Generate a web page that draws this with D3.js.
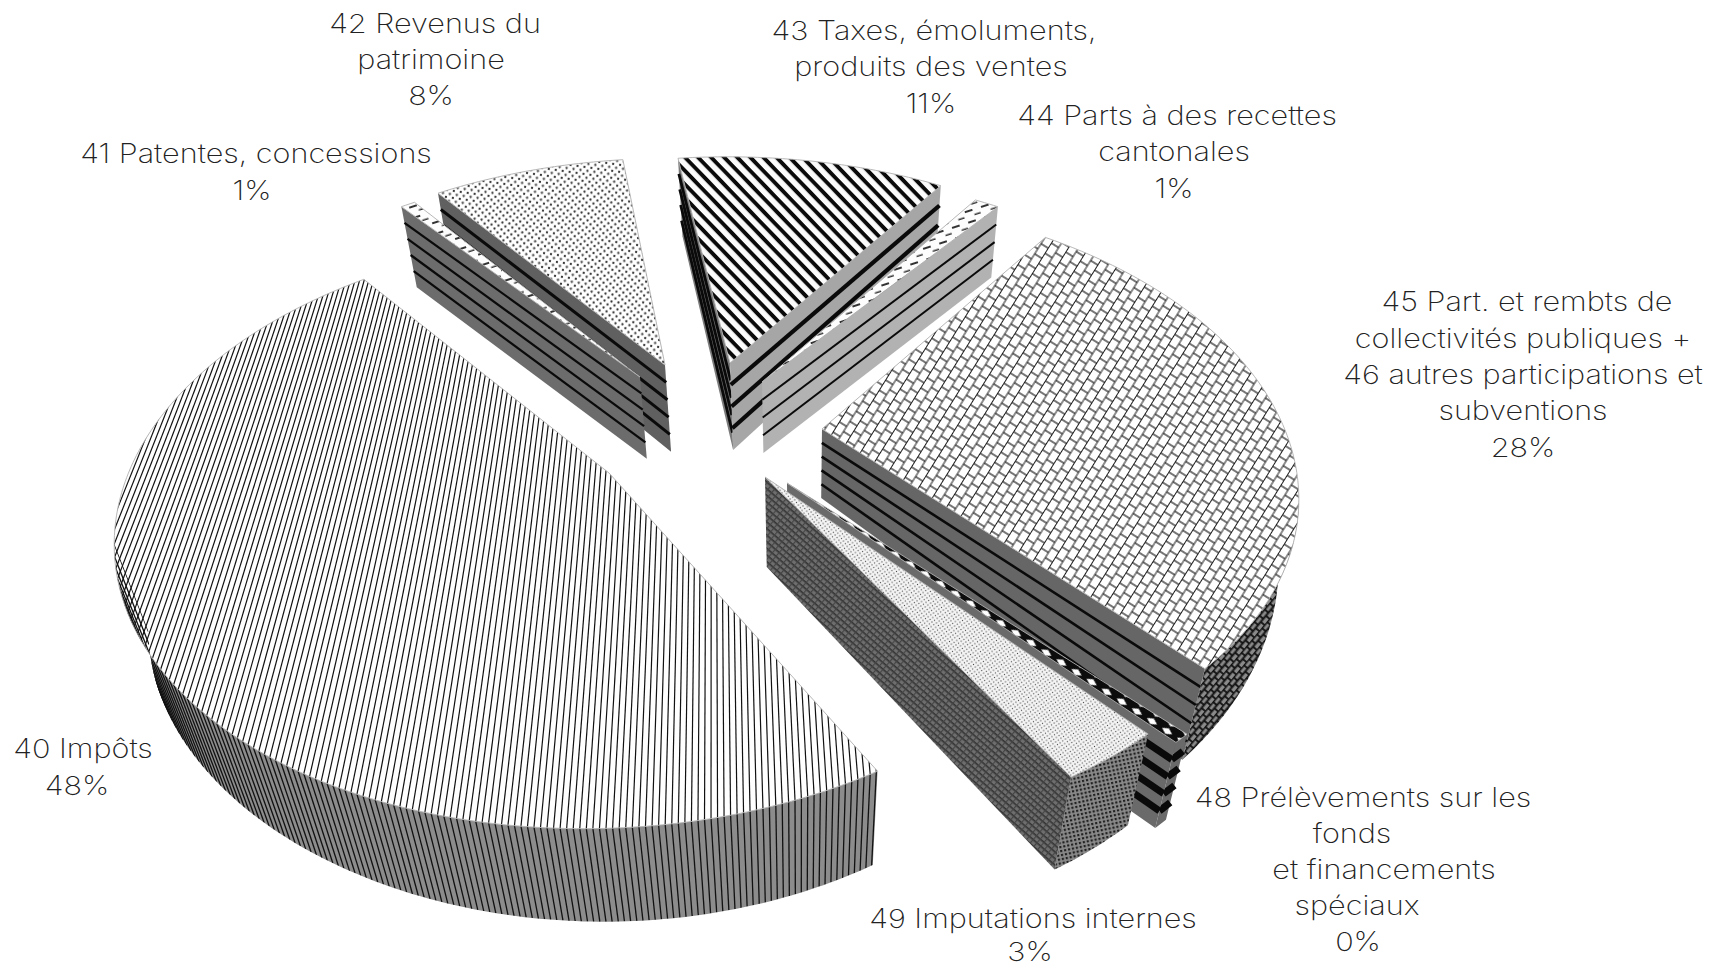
<!DOCTYPE html>
<html><head><meta charset="utf-8">
<script src="https://cdnjs.cloudflare.com/ajax/libs/d3/7.8.5/d3.min.js"></script>
<style>html,body{margin:0;background:#fff}svg{display:block}</style></head>
<body><svg id="c" width="1730" height="966"></svg>
<script>
// ---- data ----
const categories = ["40","41","42","43","44","45","48","49"];
const values = [47.5, 0.6, 8.0, 11.2, 1.0, 28.0, 0.49, 2.9];
const labelLines = [
  ["40 Impôts"],
  ["41 Patentes, concessions"],
  ["42 Revenus du","patrimoine"],
  ["43 Taxes, émoluments,","produits des ventes"],
  ["44 Parts à des recettes","cantonales"],
  ["45 Part. et rembts de","collectivités publiques +","46 autres participations et","subventions"],
  ["48 Prélèvements sur les","fonds","et financements","spéciaux"],
  ["49 Imputations internes"]
];
// ---- layout ----
const W=1730,H=966;
const C={x:712,y:420}, RX=470, RY=265, PERSP=0.19, VP={x:800,y:2300};
const startDeg=150;
const apexShift=[[-103,53],[-72,-43],[-47,-55],[18,-57],[50,-38],[110,9],[75,63],[53,57]];
const radiusK=[.985,1,1,1,1.02,.978,1,1];
const radiusKY=[1,1,1,1,1,1.03,1,1];
const depth0=[94,82,87,87,71,69,88,90];
const depthK=[0,0,.0003,.0005,0,.0015,0,.00015];
const drawOrder=[2,1,3,4,5,6,7,0];
const topFill=["none","url(#dash)","url(#dots)","url(#diag)","url(#dash)","url(#brick)","url(#zig)","url(#fine)"];
const arcFill=["#8c8c8c","#777","#6e6e6e","#999","#b4b4b4","url(#brickDark)","#6a6a6a","url(#fineDark)"];
const startWall=[null,{b:"#6c6c6c",n:4,w:2.2},{b:"#606060",n:4,w:3},{b:"#7a7a7a",n:4,w:2.8},null,null,null,null];
const endWall=[null,null,null,{b:"#a6a6a6",n:3,w:4.2},{b:"#b2b2b2",n:3,w:2},{b:"#666",n:4,w:2.6},{b:"#6a6a6a",n:4,w:7},{b:"url(#wallFine)",n:0,w:0}];
const arcLines=[0,0,0,3,3,0,4,0], arcLineW=[0,0,0,3,2,0,7,0];
const labelPos=[
 {x:[83],y:[748],px:77},
 {x:[256],y:[153],px:252},
 {x:[435,431],y:[23,59],px:431},
 {x:[934,931],y:[30,66],px:931},
 {x:[1177,1174],y:[115,151],px:1174},
 {x:[1527,1523,1523,1523],y:[301,338,374,410],px:1523},
 {x:[1363,1352,1384,1357],y:[797,833,869,905],px:1358},
 {x:[1033],y:[918],px:1030}
];
const pctY=[785,190,95,103,188,447,941,951];
// ---- projection ----
const project=(X,Y)=>{const s=1/(1-PERSP*Y);return [C.x+RX*X*s,C.y+RY*Y*s];};
const unproject=(dx,dy)=>{const Y=dy/(RY+PERSP*dy),s=1/(1-PERSP*Y);return [dx/(RX*s),Y];};
const svg=d3.select("#c");
const line=d3.line();
const poly=p=>line(p)+"Z";
// ---- patterns ----
const defs=svg.append("defs");
function pat(id,w,h,tr,draw,bg){
  const p=defs.append("pattern").attr("id",id).attr("patternUnits","userSpaceOnUse").attr("width",w).attr("height",h);
  if(tr)p.attr("patternTransform",tr);
  if(bg)p.append("rect").attr("width",w).attr("height",h).attr("fill",bg);
  draw(p);
}
pat("dots",7,7,"rotate(8)",p=>{[[0,0],[7,0],[0,7],[7,7],[3.5,3.5]].forEach(c=>p.append("circle").attr("cx",c[0]).attr("cy",c[1]).attr("r",1.15).attr("fill","#333"));},"#fff");
pat("fine",4.6,4.6,"rotate(10)",p=>{[[0,0],[4.6,0],[0,4.6],[4.6,4.6],[2.3,2.3]].forEach(c=>p.append("circle").attr("cx",c[0]).attr("cy",c[1]).attr("r",.62).attr("fill","#444"));},"#f4f4f4");
pat("fineDark",4,4,"rotate(-12)",p=>{p.append("rect").attr("width",2.2).attr("height",2.2).attr("fill","#222");},"#8a8a8a");
pat("wallFine",5,5,"rotate(41)",p=>{p.append("rect").attr("width",5).attr("height",1.6).attr("fill","#333");p.append("rect").attr("width",1.2).attr("height",5).attr("fill","#444");},"#6e6e6e");
pat("diag",9.4,9.4,"rotate(46)",p=>{p.append("rect").attr("width",9.4).attr("height",3.9).attr("fill","#0a0a0a");},"#fbfbfb");
pat("dash",17,11,"rotate(-18)",p=>{p.append("rect").attr("x",2).attr("y",4).attr("width",8).attr("height",2).attr("fill","#333");p.append("rect").attr("x",10.5).attr("y",9.5).attr("width",6.5).attr("height",1.5).attr("fill","#333");},"#fdfdfd");
pat("zig",18,9,"rotate(33)",p=>{p.append("path").attr("d","M3 4.5L9 1.2L15 4.5L9 7.8Z").attr("fill","#fff");},"#0c0c0c");
function brick(p,col,sw,w,h){
  p.append("path").attr("fill","none").attr("stroke",col).attr("stroke-width",sw)
   .attr("d",`M0 .5H${w}M0 ${h/2+.5}H${w}M${w/4} .5V${h/2+.5}M${w*3/4} ${h/2+.5}V${h+.5}`);
}
pat("brick",12,17,"rotate(-58)",p=>brick(p,"#1c1c1c",1.2,12,17),"#fff");
pat("brickDark",8,10,"rotate(-50)",p=>brick(p,"#111",1.8,8,10),"#8a8a8a");

// ---- geometry per slice ----
const arcs=d3.pie().sort(null).value(d=>d)
  .startAngle(startDeg*Math.PI/180).endAngle((startDeg+360)*Math.PI/180)(values);
function extrude(i,pt,apexY,f){
  const d=depth0[i]*(1+depthK[i]*(pt[1]-apexY))*f;
  const vx=VP.x-pt[0],vy=VP.y-pt[1],l=Math.hypot(vx,vy);
  return [pt[0]+vx/l*d,pt[1]+vy/l*d];
}
const root=svg.append("g");
drawOrder.forEach(i=>{
  const a=arcs[i],off=unproject(apexShift[i][0],apexShift[i][1]),rk=radiusK[i],ry=radiusKY[i];
  const at=t=>project(off[0]+rk*Math.sin(t),off[1]-ry*Math.cos(t));
  const apex=project(off[0],off[1]);
  const n=Math.max(2,Math.ceil((a.endAngle-a.startAngle)/(Math.PI/240)));
  const arcPts=d3.range(n+1).map(k=>at(a.startAngle+(a.endAngle-a.startAngle)*k/n));
  const g=root.append("g").attr("class","slice s"+categories[i]);
  const ex=(p,f=1)=>extrude(i,p,apex[1],f);
  let runs=[],cur=[];
  for(let k=0;k<n;k++){
    if(arcPts[k+1][0]<arcPts[k][0]){ if(!cur.length)cur.push(arcPts[k]); cur.push(arcPts[k+1]); }
    else if(cur.length){runs.push(cur);cur=[];}
  }
  if(cur.length)runs.push(cur);
  const clipWall="w"+i;
  const clipPath=defs.append("clipPath").attr("id",clipWall);
  runs.forEach(r=>{
    const d=poly(r.concat(r.map(p=>ex(p)).reverse()));
    g.append("path").attr("d",d).attr("fill",arcFill[i]);
    clipPath.append("path").attr("d",d);
    for(let q=1;q<=arcLines[i];q++){
      const f=q/(arcLines[i]+1);
      g.append("path").attr("d",line(r.map(p=>ex(p,f)))).attr("fill","none").attr("stroke","#0a0a0a").attr("stroke-width",arcLineW[i]);
    }
  });
  function radial(P,Q,st){
    if(!st||Q[0]>=P[0])return;
    g.append("path").attr("d",poly([P,Q,ex(Q),ex(P)])).attr("fill",st.b);
    for(let q=1;q<=st.n;q++){
      const f=q/(st.n+1);
      g.append("path").attr("d",line([ex(P,f),ex(Q,f)])).attr("stroke","#0a0a0a").attr("stroke-width",st.w).attr("fill","none");
    }
  }
  radial(apex,arcPts[0],startWall[i]);
  radial(arcPts[n],apex,endWall[i]);
  const topPts=[apex,...arcPts];
  const d=poly(topPts);
  if(i===0){
    const clipId="t0";
    defs.append("clipPath").attr("id",clipId).append("path").attr("d",d);
    g.append("path").attr("d",d).attr("fill","#fff");
    const xs=d3.range(-1.6,1.2,0.0108);
    const tg=g.append("g").attr("clip-path",`url(#${clipId})`);
    xs.forEach(x=>tg.append("path").attr("d",line([project(x,-2),project(x,2)])).attr("stroke","#111").attr("stroke-width",1.2).attr("fill","none"));
    const wg=g.append("g").attr("clip-path",`url(#${clipWall})`);
    xs.forEach(x=>{
      const lx=(x-off[0])/rk; if(Math.abs(lx)>=1)return;
      const t=Math.PI-Math.asin(lx);
      const tt=t<a.startAngle?t+2*Math.PI:t;
      if(tt>a.endAngle)return;
      const p=at(t);
      wg.append("path").attr("d",line([p,ex(p)])).attr("stroke","#111").attr("stroke-width",1.3).attr("fill","none");
    });
  } else {
    g.append("path").attr("d",d).attr("fill",topFill[i]);
  }
  g.append("path").attr("d",d).attr("fill","none").attr("stroke","#b0b0b0").attr("stroke-width",.9);
});
// ---- labels ----
const fmt=d3.format(".0f");
const lab=svg.append("g").attr("font-family","Inter, Lato, sans-serif").attr("font-weight",200).attr("font-size",26.5).attr("fill","#222").attr("text-anchor","middle");
const put=(t,x,y)=>lab.append("text").attr("transform",`translate(${x},${y}) scale(1.155,1)`).attr("dy","0.36em").text(t);
labelLines.forEach((ls,i)=>{
  ls.forEach((t,j)=>put(t,labelPos[i].x[j],labelPos[i].y[j]));
  put(fmt(values[i])+"%",labelPos[i].px,pctY[i]);
});
</script></body></html>
